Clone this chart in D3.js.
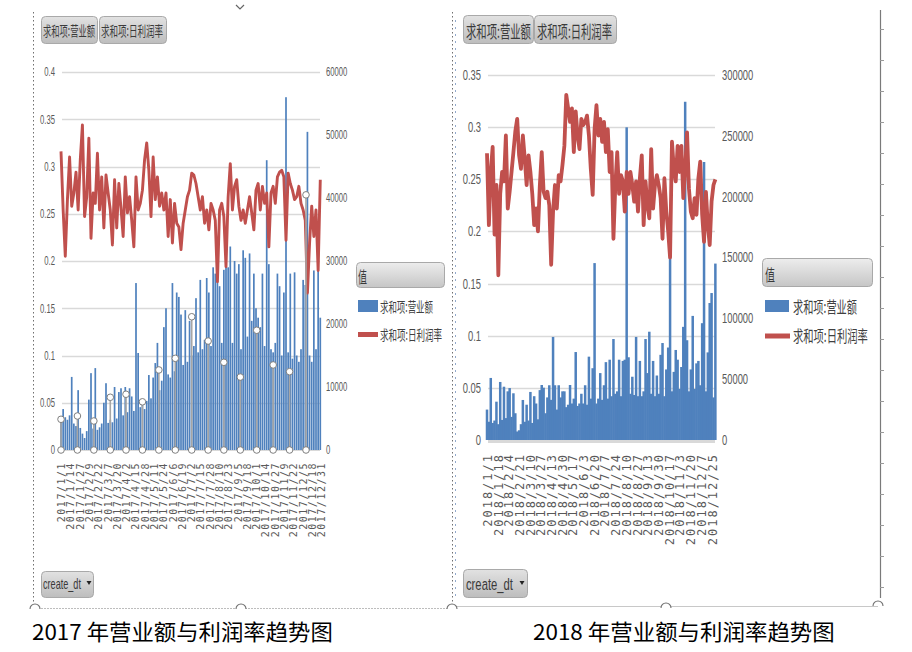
<!DOCTYPE html>
<html><head><meta charset="utf-8">
<script src="https://cdn.jsdelivr.net/npm/d3@7/dist/d3.min.js"></script>
<style>
html,body{margin:0;padding:0;background:#fff;overflow:hidden;}
svg{display:block;}
</style></head><body>
<svg id="chart" width="912" height="652"></svg>
<script>
// ---------------- DATA (one reading every 3 days) ----------------
const SAMPLE_STEP = 3;

const revenue2017 = [5000,6500,5200,4800,5500,11600,4200,3800,9500,3500,
 2600,1900,3000,8000,12200,3400,13000,3200,3600,4200,
 7500,10600,4300,4800,4400,10000,5000,9200,9800,5500,
 10000,6000,9800,8500,6200,26500,15400,6800,7600,6500,
 7800,11900,8200,11500,13800,17000,9500,11000,19500,22500,
 12000,11500,26500,12500,25000,24300,21500,13500,22200,14000,
 20500,15000,16500,24100,15500,27000,16000,17500,27300,25000,
 16500,29000,28000,27000,26000,17000,28600,30600,29000,32300,
 17000,30000,28000,29500,16000,31700,30500,18000,31200,20500,
 28000,22500,21000,19500,28000,16500,46000,29500,16000,15500,
 17000,28000,26000,15000,25000,56000,15500,28000,14500,28200,
 15000,14000,16000,27000,26200,50500,15000,14000,28500,16000,
 28500,21000];

const margin2017 = [0.316,0.254,0.205,0.265,0.31,0.258,0.272,0.294,0.254,0.307,
 0.344,0.247,0.268,0.33,0.224,0.272,0.261,0.314,0.254,0.289,
 0.235,0.291,0.272,0.254,0.217,0.286,0.235,0.282,0.256,0.226,
 0.289,0.251,0.268,0.243,0.215,0.289,0.254,0.261,0.275,0.307,
 0.325,0.296,0.247,0.31,0.265,0.289,0.258,0.272,0.254,0.272,
 0.226,0.265,0.219,0.261,0.24,0.236,0.212,0.24,0.254,0.268,
 0.275,0.293,0.291,0.282,0.268,0.254,0.268,0.24,0.254,0.233,
 0.261,0.254,0.243,0.178,0.254,0.261,0.247,0.194,0.268,0.303,
 0.254,0.279,0.286,0.258,0.243,0.254,0.24,0.254,0.268,0.251,
 0.233,0.275,0.282,0.254,0.279,0.261,0.272,0.215,0.272,0.279,
 0.261,0.289,0.294,0.296,0.289,0.222,0.293,0.282,0.275,0.265,
 0.268,0.279,0.261,0.254,0.243,0.166,0.219,0.258,0.226,0.254,
 0.19,0.286];

const markerDays2017 = [0,23,46,69,91,114,137,160,183,206,228,251,274,297,320,343];
const markerValues2017 = [0.0325,0.036,0.0307,0.0558,0.059,0.051,0.0847,0.097,0.141,0.1153,0.0928,0.0772,0.1267,0.09,0.0829,0.27];

const xLabels2017 = ["2017/1/1","2017/1/14","2017/1/27","2017/2/9","2017/2/22","2017/3/7","2017/3/20","2017/4/2","2017/4/15","2017/4/28","2017/5/11","2017/5/24","2017/6/6","2017/6/19","2017/7/2","2017/7/15","2017/7/28","2017/8/10","2017/8/23","2017/9/5","2017/9/18","2017/10/1","2017/10/14","2017/10/27","2017/11/9","2017/11/22","2017/12/5","2017/12/18","2017/12/31"];

const revenue2018 = [25000,15000,51000,14000,16000,31500,13000,47700,16500,43800,
 18000,40000,42700,19000,38400,22000,7000,8000,13000,32900,
 15000,29000,16000,39500,14000,36000,30000,17000,41000,45200,
 43000,22000,35000,45000,33000,84700,45000,25000,45000,35000,
 40000,40000,27000,29000,45200,30000,34000,72300,28000,30000,
 38000,30000,45000,29000,68500,34000,59000,145400,30000,34000,
 55000,33000,45000,64000,34000,66000,36000,83000,38000,40000,
 66000,36000,65000,66000,257000,68000,38000,52000,37000,84700,
 36000,65000,36000,40000,83000,55000,89000,38000,65000,36000,
 53000,38000,70000,79700,36000,58000,76000,150000,40000,56000,
 74000,66000,42000,60000,93000,278000,82000,40000,58000,102000,
 42000,63000,65000,45000,96000,228500,40000,72000,112600,120800,
 35000,145000];

const margin2018 = [0.275,0.206,0.257,0.281,0.197,0.2445,0.158,0.236,0.257,0.248,
 0.292,0.222,0.238,0.257,0.276,0.296,0.308,0.273,0.26,0.292,
 0.27,0.2445,0.273,0.257,0.236,0.206,0.222,0.2,0.2445,0.276,
 0.238,0.232,0.238,0.225,0.168,0.219,0.2445,0.222,0.254,0.248,
 0.264,0.282,0.331,0.318,0.305,0.318,0.276,0.315,0.292,0.279,
 0.308,0.302,0.305,0.311,0.292,0.26,0.235,0.298,0.321,0.292,
 0.308,0.286,0.305,0.276,0.298,0.257,0.276,0.193,0.2445,0.276,
 0.236,0.254,0.248,0.219,0.257,0.236,0.257,0.2445,0.2285,0.248,
 0.219,0.251,0.273,0.206,0.248,0.225,0.2126,0.279,0.222,0.2445,
 0.254,0.2445,0.232,0.193,0.251,0.219,0.2,0.175,0.286,0.26,
 0.248,0.282,0.257,0.282,0.232,0.26,0.295,0.241,0.219,0.2126,
 0.232,0.216,0.251,0.267,0.216,0.19,0.238,0.206,0.187,0.229,
 0.2445,0.25];

const xLabels2018 = ["2018/1/1","2018/1/18","2018/2/4","2018/2/21","2018/3/10","2018/3/27","2018/4/13","2018/4/30","2018/5/17","2018/6/3","2018/6/20","2018/7/7","2018/7/24","2018/8/10","2018/8/27","2018/9/13","2018/9/30","2018/10/17","2018/11/3","2018/11/20","2018/12/7","2018/12/25"];

const leftTicks2017 = [0,0.05,0.1,0.15,0.2,0.25,0.3,0.35,0.4];
const rightTicks2017 = [0,10000,20000,30000,40000,50000,60000];
const leftTicks2018 = [0,0.05,0.1,0.15,0.2,0.25,0.3,0.35];
const rightTicks2018 = [0,50000,100000,150000,200000,250000,300000];

const pivotButtons = ["求和项:营业额","求和项:日利润率"];
const legendTitle = "值";
const seriesNames = ["求和项:营业额","求和项:日利润率"];
const fieldButton = "create_dt";
const titles = ["2017 年营业额与利润率趋势图","2018 年营业额与利润率趋势图"];

// ---------------- DRAWING ----------------
const CJK = '"Noto Sans CJK SC","Noto Sans",sans-serif';
const SANS = '"Liberation Sans",Arial,sans-serif';
const MONO = '"DejaVu Sans Mono",monospace';
const BLUE = "#4F81BD", RED = "#C0504D", TXT = "#595959";

const svg = d3.select("#chart");
svg.append("rect").attr("width",912).attr("height",652).attr("fill","#fff");
const defs = svg.append("defs");
function grad(id,c1,c2){
  const lg = defs.append("linearGradient").attr("id",id).attr("x1",0).attr("y1",0).attr("x2",0).attr("y2",1);
  lg.append("stop").attr("offset",0).attr("stop-color",c1);
  lg.append("stop").attr("offset",1).attr("stop-color",c2);
}
grad("btnGrad","#e2e2e2","#bdbdbd");
grad("hdrGrad","#ededed","#c6c6c6");

function dayIndex(label){
  const [y,m,d] = label.split("/").map(Number);
  return d3.timeDay.count(new Date(y,0,1), new Date(y,m-1,d));
}
function squish(sel, sx){
  sel.each(function(){
    const t = d3.select(this); const x = +t.attr("x") || 0;
    t.attr("transform",`translate(${x},0) scale(${sx},1) translate(${-x},0)`);
  });
}
function styleAxis(ax, size, sx){
  ax.attr("font-family",SANS).attr("font-size",size);
  ax.select(".domain").remove();
  ax.selectAll("text").attr("fill",TXT);
  squish(ax.selectAll("text"), sx);
}
function button(g, r, fill){
  g.append("rect").attr("x",r.x+0.5).attr("y",r.y+0.5).attr("width",r.w).attr("height",r.h)
    .attr("rx",4).attr("fill",`url(#${fill})`).attr("stroke","#a9a9a9");
}
// text squeezed horizontally to a target width (as in the narrow screenshot)
function label(g, str, x, y, size, width, family, color){
  const t = g.append("text").attr("x",x).attr("y",y).attr("font-size",size)
    .attr("font-family",family).attr("fill",color).text(str);
  if (width){
    const w = t.node().getComputedTextLength();
    if (w > 0) t.attr("transform",`translate(${x},0) scale(${width/w},1) translate(${-x},0)`);
  }
  return t;
}
const fmtRate = d => d === 0 ? "0" : String(+d.toFixed(2));

function drawChart(c){
  const g = svg.append("g");
  const x = d3.scaleLinear().domain([0,364]).range([c.x0,c.x1]);
  const yL = d3.scaleLinear().domain([0,c.leftMax]).range([c.yBase,c.yTop]);
  const yR = d3.scaleLinear().domain([0,c.rightMax]).range([c.yBase,c.yTop]);

  // gridlines
  g.append("g").selectAll("line").data(c.leftTicks.filter(d=>d>0)).join("line")
    .attr("x1",c.gx0).attr("x2",c.gx1)
    .attr("y1",d=>Math.round(yL(d))+0.5).attr("y2",d=>Math.round(yL(d))+0.5)
    .attr("stroke","#d9d9d9").attr("stroke-width",1.5);
  g.append("line").attr("x1",c.gx0).attr("x2",c.gx1)
    .attr("y1",c.yBase+c.baseOff).attr("y2",c.yBase+c.baseOff)
    .attr("stroke","#d9d9d9").attr("stroke-width",c.baseW);

  // axes
  const axL = g.append("g").attr("transform",`translate(${c.lx},0)`)
    .call(d3.axisLeft(yL).tickValues(c.leftTicks).tickSize(0).tickPadding(0).tickFormat(fmtRate));
  styleAxis(axL, c.tickFont, c.tickSx);
  const axR = g.append("g").attr("transform",`translate(${c.rx},0)`)
    .call(d3.axisRight(yR).tickValues(c.rightTicks).tickSize(0).tickPadding(0).tickFormat(d3.format("d")));
  styleAxis(axR, c.tickFont, c.tickSx);

  const labDays = c.labels.map(dayIndex);
  const axX = g.append("g").attr("transform",`translate(0,${c.xLabY})`)
    .call(d3.axisBottom(x).tickValues(labDays).tickSize(0).tickPadding(0).tickFormat((d,i)=>c.labels[i]));
  axX.select(".domain").remove();
  axX.attr("font-family",MONO).attr("font-size",c.xLabFont);
  axX.selectAll("text").attr("fill",TXT).attr("x",0).attr("y",0).attr("dy","0.36em")
    .attr("text-anchor","end").attr("transform","rotate(-90)")
    .style("letter-spacing",c.xLabLS+"px");

  // bars
  g.append("g").selectAll("rect").data(c.revenue).join("rect")
    .attr("x",(d,i)=>x(i*SAMPLE_STEP)-c.barW/2).attr("width",c.barW)
    .attr("y",d=>yR(d)).attr("height",d=>c.yBase-yR(d)).attr("fill",BLUE);

  // line
  g.append("path").datum(c.margin)
    .attr("d",d3.line().x((d,i)=>x(i*SAMPLE_STEP)).y(d=>yL(d)))
    .attr("fill","none").attr("stroke",RED).attr("stroke-width",c.lineW)
    .attr("stroke-linejoin","round");

  // lollipop markers
  if (c.markerDays){
    const mg = g.append("g");
    mg.selectAll("line").data(c.markerDays).join("line")
      .attr("x1",d=>x(d)).attr("x2",d=>x(d)).attr("y1",c.yBase)
      .attr("y2",(d,i)=>yL(c.markerValues[i])).attr("stroke","#a6a6a6").attr("stroke-width",1.6);
    mg.selectAll("circle.b").data(c.markerDays).join("circle").attr("class","b")
      .attr("cx",d=>x(d)).attr("cy",c.yBase).attr("r",3.3)
      .attr("fill","#fff").attr("stroke","#7f7f7f").attr("stroke-width",1);
    mg.selectAll("circle.t").data(c.markerDays).join("circle").attr("class","t")
      .attr("cx",d=>x(d)).attr("cy",(d,i)=>yL(c.markerValues[i])).attr("r",3.3)
      .attr("fill","#fff").attr("stroke","#7f7f7f").attr("stroke-width",1);
  }

  // pivot buttons
  c.btnRects.forEach((r,i)=>{
    button(g, r, "btnGrad");
    label(g, pivotButtons[i], c.btnText[i].x, c.btnText[i].y, c.btnFont, c.btnText[i].w, CJK, "#3a3a3a");
  });

  // legend
  const L = c.legend;
  button(g, L.hdr, "hdrGrad");
  label(g, legendTitle, L.hdrText.x, L.hdrText.y, L.hdrFont, L.hdrText.w, CJK, "#3a3a3a");
  g.append("rect").attr("x",L.sw.x).attr("y",L.sw.y).attr("width",L.sw.w).attr("height",L.sw.h).attr("fill",BLUE);
  g.append("line").attr("x1",L.ln.x1).attr("x2",L.ln.x2).attr("y1",L.ln.y).attr("y2",L.ln.y)
    .attr("stroke",RED).attr("stroke-width",L.ln.w);
  label(g, seriesNames[0], L.t1.x, L.t1.y, L.font, L.t1.w, CJK, "#404040");
  label(g, seriesNames[1], L.t2.x, L.t2.y, L.font, L.t2.w, CJK, "#404040");

  // field button
  const F = c.field;
  button(g, F.rect, "btnGrad");
  label(g, fieldButton, F.text.x, F.text.y, F.font, F.text.w, SANS, "#3a3a3a");
  g.append("path").attr("d",`M${F.tri[0]-2.5},${F.tri[1]-2}L${F.tri[0]+2.5},${F.tri[1]-2}L${F.tri[0]},${F.tri[1]+2}Z`).attr("fill","#222");

  // title
  label(g, c.title, c.titlePos.x, c.titlePos.y, 21.5, c.titlePos.w, CJK, "#000");
}

const charts = [
  { revenue:revenue2017, margin:margin2017, labels:xLabels2017, title:titles[0],
    markerDays:markerDays2017, markerValues:markerValues2017,
    leftTicks:leftTicks2017, rightTicks:rightTicks2017, leftMax:0.4, rightMax:60000,
    x0:61, x1:321, gx0:62, gx1:320, yTop:72, yBase:450, baseOff:0.5, baseW:1,
    lx:55, rx:326, tickFont:12, tickSx:0.64,
    xLabY:462, xLabFont:10, xLabLS:1.5, barW:1.7, lineW:2.9,
    btnRects:[{x:41,y:16,w:56,h:27},{x:99,y:16,w:67,h:27}],
    btnText:[{x:43,y:36,w:52},{x:101,y:36,w:62}], btnFont:14,
    legend:{hdr:{x:356,y:262,w:88,h:25}, hdrText:{x:358,y:283,w:9}, hdrFont:16,
      sw:{x:358,y:300,w:20,h:12}, ln:{x1:358,x2:378,y:334.5,w:5},
      t1:{x:380,y:312,w:53}, t2:{x:380,y:340,w:62}, font:14},
    field:{rect:{x:41,y:571,w:52,h:26}, text:{x:43,y:589,w:38}, font:15, tri:[89,583]},
    titlePos:{x:32,y:640,w:301} },
  { revenue:revenue2018, margin:margin2018, labels:xLabels2018, title:titles[1],
    leftTicks:leftTicks2018, rightTicks:rightTicks2018, leftMax:0.35, rightMax:300000,
    x0:487, x1:716, gx0:488, gx1:715, yTop:75, yBase:440, baseOff:1.5, baseW:3,
    lx:481, rx:722, tickFont:14, tickSx:0.67,
    xLabY:453, xLabFont:12, xLabLS:2, barW:2.5, lineW:3.8,
    btnRects:[{x:463,y:15,w:70,h:28},{x:534,y:15,w:82,h:28}],
    btnText:[{x:466,y:38,w:65},{x:537,y:38,w:75}], btnFont:17,
    legend:{hdr:{x:762,y:258,w:110,h:28}, hdrText:{x:765,y:281,w:10}, hdrFont:16,
      sw:{x:765,y:300,w:24,h:12}, ln:{x1:765,x2:790,y:336,w:5},
      t1:{x:793,y:313,w:64}, t2:{x:793,y:342,w:75}, font:16},
    field:{rect:{x:463,y:569,w:64,h:28}, text:{x:466,y:590,w:47}, font:17, tri:[522,583]},
    titlePos:{x:533,y:640,w:302} }
];
charts.forEach(drawChart);

// ---------------- frame decorations ----------------
const fr = svg.append("g").attr("fill","none");
fr.append("line").attr("x1",33.5).attr("x2",33.5).attr("y1",12).attr("y2",606).attr("stroke","#6f6f6f").attr("stroke-dasharray","1.5,2.5");
fr.append("line").attr("x1",452.5).attr("x2",452.5).attr("y1",12).attr("y2",606).attr("stroke","#6f6f6f").attr("stroke-dasharray","1.5,2.5");
fr.append("line").attr("x1",455.5).attr("x2",455.5).attr("y1",20).attr("y2",600).attr("stroke","#4a6fa8").attr("stroke-dasharray","2,5").attr("stroke-opacity",0.6);
fr.append("line").attr("x1",880.5).attr("x2",880.5).attr("y1",10).attr("y2",598).attr("stroke","#7a7a7a").attr("stroke-width",1.2);
fr.selectAll("line.tk").data(d3.range(29,598,31)).join("line").attr("class","tk")
  .attr("x1",880).attr("x2",884).attr("y1",d=>d+0.5).attr("y2",d=>d+0.5).attr("stroke","#9a9a9a");
fr.append("line").attr("x1",35).attr("x2",452).attr("y1",608.5).attr("y2",608.5).attr("stroke","#bdbdbd").attr("stroke-dasharray","2,1");
fr.append("line").attr("x1",455).attr("x2",878).attr("y1",606.5).attr("y2",606.5).attr("stroke","#c8c8c8");
[[35,607],[241,607],[452,607],[666,606],[878,604]].forEach(([hx,hy])=>{
  fr.append("path").attr("d",`M${hx-5},${hy+2}A5,5 0 0 1 ${hx+5},${hy+2}`).attr("fill","#fff").attr("stroke","#6f6f6f").attr("stroke-width",1.1);
});
fr.append("path").attr("d","M236,5L240,9L244,5").attr("stroke","#666").attr("stroke-width",1.2);
</script>
</body></html>
